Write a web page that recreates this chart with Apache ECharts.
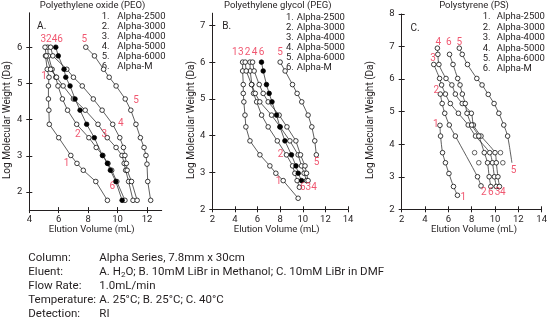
<!DOCTYPE html>
<html><head><meta charset="utf-8">
<script src="https://cdn.jsdelivr.net/npm/echarts@6/dist/echarts.min.js"></script>
<style>html,body{margin:0;padding:0;background:#fff}#c{width:550px;height:326px}</style>
</head><body><div id="c"></div>
<script>
// ---------- text ----------
const seriesNames = ['Alpha-2500','Alpha-3000','Alpha-4000','Alpha-5000','Alpha-6000','Alpha-M'];
const panelTitles = ['Polyethylene oxide (PEO)','Polyethylene glycol (PEG)','Polystyrene (PS)'];
const panelLetters = ['A.','B.','C.'];
const xAxisTitle = 'Elution Volume (mL)';
const yAxisTitle = 'Log Molecular Weight (Da)';
// ---------- ticks ----------
const xTicksA = [4,6,8,10,12];
const yTicksA = [2,3,4,5,6];
const xTicksB = [2,4,6,8,10,12,14];
const yTicksB = [2,3,4,5,6,7];
const xTicksC = [2,4,6,8,10,12,14];
const yTicksC = [2,3,4,5,6,7,8];
// ---------- PEO (A): [elution volume, log MW] ----------
const peo2500 = [[5.1,5.76],[5.22,5.39],[5.34,5.17],[5.3,4.93],[5.3,4.57],[5.33,4.26],[5.36,3.87],[6.0,3.5],[6.82,3.01],[7.24,2.79],[7.67,2.6],[8.52,2.29],[9.31,1.77]];
const peo3000 = [[5.25,6.0],[5.3,5.76],[5.55,5.39],[5.8,5.17],[5.95,4.93],[6.25,4.57],[6.6,4.26],[7.22,3.87],[8.05,3.5],[8.55,3.23],[9.0,3.01],[9.35,2.79],[9.6,2.6],[9.95,2.29],[10.5,1.77]];
const peo4000 = [[5.07,6.0],[5.15,5.76],[5.45,5.39],[5.85,5.17],[6.3,4.93],[7.0,4.57],[7.8,4.26],[8.67,3.87],[9.3,3.5],[9.9,3.23],[10.3,3.01],[10.45,2.79],[10.55,2.6],[10.75,2.29],[11.05,1.77]];
const peo5000 = [[5.45,6.0],[5.6,5.76],[6.55,5.39],[7.0,5.17],[7.6,4.93],[8.35,4.57],[8.95,4.26],[9.67,3.87],[10.15,3.5],[10.4,3.23],[10.5,3.01],[10.6,2.79],[10.65,2.6],[10.95,2.29],[11.33,1.77]];
const peo6000 = [[7.84,6.0],[8.43,5.76],[9.05,5.39],[9.43,5.17],[9.9,4.93],[10.52,4.57],[10.9,4.26],[11.25,3.87],[11.55,3.5],[11.8,3.23],[11.93,3.01],[12.0,2.77],[12.05,2.29],[12.25,1.77]];
const peoM = [[5.8,6.0],[5.97,5.76],[6.36,5.39],[6.48,5.17],[6.77,4.93],[7.11,4.57],[7.45,4.26],[7.9,3.87],[8.42,3.5],[8.97,3.01],[9.31,2.79],[9.51,2.6],[9.88,2.29],[10.31,1.77]];
const peoTags = [['3246',5.52,6.22],['5',7.74,6.22],['1',5.0,5.19],['5',11.26,4.54],['4',10.22,3.88],['2',7.29,3.6],['3',9.1,3.58],['1',6.54,2.8],['6',9.65,2.15]];
// ---------- PEG (B) ----------
const peg2500 = [[4.68,6.0],[4.68,5.76],[4.74,5.39],[4.74,5.15],[4.79,4.92],[4.89,4.56],[4.97,4.24],[5.33,3.86],[6.21,3.48],[7.09,3.18],[7.62,2.98],[8.27,2.78],[9.59,2.3]];
const peg3000 = [[5.33,6.0],[5.35,5.76],[5.5,5.39],[5.65,5.15],[5.92,4.92],[6.36,4.56],[6.94,4.24],[7.75,3.86],[8.56,3.48],[9.1,3.18],[9.3,2.98],[9.5,2.78],[9.7,2.6]];
const peg4000 = [[4.91,6.0],[5.0,5.76],[5.47,5.39],[5.8,5.15],[6.2,4.92],[7.24,4.56],[8.0,4.24],[8.86,3.86],[9.59,3.48],[9.89,3.18],[10.12,2.98],[10.33,2.78]];
const peg5000 = [[5.56,6.0],[5.7,5.76],[6.15,5.39],[6.5,5.15],[6.94,4.92],[7.91,4.56],[8.6,4.24],[9.39,3.86],[9.8,3.48],[10.2,3.18],[10.33,2.98],[10.47,2.78]];
const peg6000 = [[8.0,6.0],[8.44,5.76],[9.09,5.39],[9.5,5.15],[9.91,4.92],[10.47,4.56],[10.8,4.24],[11.06,3.86],[11.2,3.48]];
const pegM = [[6.35,6.0],[6.5,5.76],[6.79,5.39],[7.03,5.15],[7.28,4.92],[7.68,4.56],[7.98,4.24],[8.42,3.86],[9.0,3.48],[9.4,3.18],[9.6,2.98],[9.89,2.78]];
const pegTags = [['1',4.0,6.26],['3',4.53,6.26],['2',5.12,6.26],['4',5.74,6.26],['6',6.36,6.26],['5',8.0,6.26],['2',8.04,3.5],['5',11.21,3.28],['1',7.86,2.75],['634',10.5,2.6]];
// ---------- PS (C) ----------
const ps2500 = [[5.28,4.58],[5.33,4.25],[5.5,3.74],[5.75,3.43],[6.05,3.1],[6.44,2.7],[6.78,2.43]];
const ps3000 = [[5.31,5.54],[5.47,5.25],[5.69,4.95],[6.08,4.59],[6.6,4.25],[8.5,3.0],[8.8,2.72]];
const ps4000 = [[4.75,6.45],[5.25,6.02],[5.42,5.82],[5.75,5.54],[6.17,5.25],[6.86,4.95],[7.7,4.59],[8.33,4.25],[9.55,3.74],[9.78,3.43],[9.95,3.0],[10.11,2.7]];
const ps5000 = [[5.06,6.95],[5.1,6.76],[5.19,6.45],[5.8,6.02],[6.3,5.82],[6.6,5.54],[7.19,5.25],[7.97,4.95],[8.15,4.59],[8.8,4.25],[10.0,3.74],[10.11,3.43],[10.25,3.0],[10.38,2.7]];
const ps6000 = [[6.94,6.95],[7.19,6.76],[7.64,6.45],[8.44,6.02],[8.89,5.82],[9.42,5.53],[9.92,5.25],[10.33,4.95],[10.75,4.59],[11.08,4.25]];
const ps6000CurveEnd = [11.45,3.43];
const psM = [[6.1,6.76],[6.4,6.45],[6.8,6.02],[7.0,5.82],[7.2,5.54],[7.45,5.25],[7.6,4.95],[8.0,4.59],[8.61,4.25],[9.08,3.74],[9.36,3.43],[9.5,3.0],[9.64,2.7]];
const psLoose = [[8.25,3.74],[8.61,3.43],[10.47,3.74],[10.67,3.43]];
const psTags = [['4',5.14,7.12],['6',6.03,7.12],['5',6.94,7.12],['3',4.69,6.64],['2',4.97,5.64],['1',4.92,4.59],['5',11.58,3.19],['1',7.28,2.37],['2',9.03,2.51],['6',9.64,2.51],['3',10.22,2.51],['4',10.67,2.51]];
// ---------- conditions ----------
const condLabels = ['Column:','Eluent:','Flow Rate:','Temperature:','Detection:'];
const condValues = ['Alpha Series, 7.8mm x 30cm', null, '1.0mL/min', 'A. 25°C; B. 25°C; C. 40°C', 'RI'];
const eluentParts = ['A. H','2','O; B. 10mM LiBr in Methanol; C. 10mM LiBr in DMF'];

// ---------- build ----------
const FONT = '"Roboto","Liberation Sans",sans-serif';
const INK = '#231f20';
const RED = '#ec2d4c';
const chart = echarts.init(document.getElementById('c'), null, {renderer:'canvas'});

const panels = [
  {grid:{left:29.3, top:12.8, width:132.4, height:197.3}, x:[4,13], y:[1.5,6.95], xt:xTicksA, yt:yTicksA,
   data:[peo2500,peo3000,peo4000,peo5000,peo6000,peoM], tags:peoTags, filledM:true, smooth:false},
  {grid:{left:212.3, top:13.2, width:135.7, height:196.1}, x:[2,14], y:[2,7.33], xt:xTicksB, yt:yTicksB,
   data:[peg2500,peg3000,peg4000,peg5000,peg6000,pegM], tags:pegTags, filledM:true, smooth:false},
  {grid:{left:401.7, top:14, width:144.3, height:195.3}, x:[2,14], y:[2,8], xt:xTicksC, yt:yTicksC,
   data:[ps2500,ps3000,ps4000,ps5000,ps6000.concat([ps6000CurveEnd]),psM], tags:psTags, filledM:false, smooth:0.25}
];

const grids=[], xAxes=[], yAxes=[], series=[];
const axLine = {lineStyle:{color:INK,width:1}};
panels.forEach((p,i)=>{
  grids.push(Object.assign({containLabel:false}, p.grid));
  xAxes.push({gridIndex:i,type:'value',min:p.x[0],max:p.x[1],position:'bottom',
    axisLine:axLine, axisTick:{length:3,customValues:p.xt,lineStyle:{color:INK}},
    axisLabel:{customValues:p.xt,fontSize:9.5,margin:5,color:INK,fontFamily:FONT},
    splitLine:{show:false}});
  xAxes.push({gridIndex:i,type:'value',min:p.x[0],max:p.x[1],position:'bottom',
    axisLine:{show:false}, axisTick:{inside:true,length:3,customValues:p.xt,lineStyle:{color:INK}},
    axisLabel:{show:false}, splitLine:{show:false}});
  yAxes.push({gridIndex:i,type:'value',min:p.y[0],max:p.y[1],position:'left',
    axisLine:axLine, axisTick:{length:3,customValues:p.yt,lineStyle:{color:INK}},
    axisLabel:{customValues:p.yt,fontSize:9.5,margin:7,color:INK,fontFamily:FONT},
    splitLine:{show:false}});
  yAxes.push({gridIndex:i,type:'value',min:p.y[0],max:p.y[1],position:'left',
    axisLine:{show:false}, axisTick:{inside:true,length:3,customValues:p.yt,lineStyle:{color:INK}},
    axisLabel:{show:false}, splitLine:{show:false}});
  p.data.forEach((d,k)=>{
    const filled = (k===5 && p.filledM);
    const last = d.length-1;
    series.push({type:'line', name:seriesNames[k], xAxisIndex:2*i, yAxisIndex:2*i,
      data: d.map((pt,j)=> (i===2 && k===4 && j===last) ? {value:pt, symbol:'none'} : pt),
      smooth:p.smooth, symbol:'circle', symbolSize:4.6, showSymbol:true,
      itemStyle:{color: filled?'#000':'#fff', borderColor:'#000', borderWidth:0.75},
      lineStyle:{color:'#2a2a2a', width:0.75}, z: filled?4:3, animation:false, silent:true});
  });
  series.push({type:'scatter', xAxisIndex:2*i, yAxisIndex:2*i, symbolSize:0,
    data:p.tags.map(t=>[t[1],t[2],t[0]]),
    label:{show:true, position:'inside', formatter:q=>q.data[2], color:RED, fontSize:10, fontFamily:FONT},
    z:6, animation:false, silent:true});
});
series.push({type:'scatter', xAxisIndex:4, yAxisIndex:4, data:psLoose, symbol:'circle', symbolSize:4.6,
  itemStyle:{color:'#fff', borderColor:'#000', borderWidth:0.75}, z:3, animation:false, silent:true});

// text graphics
const g = [];
const titleX = [92.5, 277.7, 474];
panelTitles.forEach((t,i)=> g.push({type:'text', x:titleX[i], y:5.5, style:{text:t, font:'9.5px '+FONT, fill:INK, textAlign:'center', textVerticalAlign:'middle'}}));
const xNameX = [91.7, 276.7, 474];
xNameX.forEach(x=> g.push({type:'text', x:x, y:230, style:{text:xAxisTitle, font:'9.5px '+FONT, fill:INK, textAlign:'center', textVerticalAlign:'middle'}}));
const yNameX = [7.5, 191.7, 370];
yNameX.forEach(x=> g.push({type:'text', x:x, y:120, rotation:Math.PI/2, style:{text:yAxisTitle, font:'10px '+FONT, fill:INK, textAlign:'center', textVerticalAlign:'middle'}}));
const letterPos = [[41.7,26],[226.7,26.7],[415,28.3]];
panelLetters.forEach((t,i)=> g.push({type:'text', x:letterPos[i][0], y:letterPos[i][1], style:{text:t, font:'10px '+FONT, fill:INK, textAlign:'center', textVerticalAlign:'middle'}}));
const legPos = [[101.7,117.3,16.5,10],[286,296.7,17.5,10],[482.7,496.7,17,10.4]];
legPos.forEach(L=>{
  seriesNames.forEach((n,k)=>{
    g.push({type:'text', x:L[0], y:L[2]+k*L[3], style:{text:(k+1)+'.', font:'9.5px '+FONT, fill:INK, textVerticalAlign:'middle'}});
    g.push({type:'text', x:L[1], y:L[2]+k*L[3], style:{text:n, font:'9.5px '+FONT, fill:INK, textVerticalAlign:'middle'}});
  });
});
condLabels.forEach((t,i)=>{
  const yy = 258 + i*14;
  g.push({type:'text', x:28.3, y:yy, style:{text:t, font:'11.5px '+FONT, fill:INK, textVerticalAlign:'middle'}});
  if (condValues[i] !== null) {
    g.push({type:'text', x:99.3, y:yy, style:{text:condValues[i], font:'11.5px '+FONT, fill:INK, textVerticalAlign:'middle'}});
  } else {
    g.push({type:'text', x:99.3, y:yy, style:{
      text:'{n|'+eluentParts[0]+'}{s|'+eluentParts[1]+'}{n|'+eluentParts[2]+'}',
      textVerticalAlign:'middle', fill:INK,
      rich:{n:{fontSize:11.5,fontFamily:FONT,fill:INK,verticalAlign:'middle'},
            s:{fontSize:8,fontFamily:FONT,fill:INK,padding:[5,0,0,0],verticalAlign:'middle'}}}});
  }
});

chart.setOption({animation:false, backgroundColor:'#fff', grid:grids, xAxis:xAxes, yAxis:yAxes, series, graphic:g});
</script></body></html>
